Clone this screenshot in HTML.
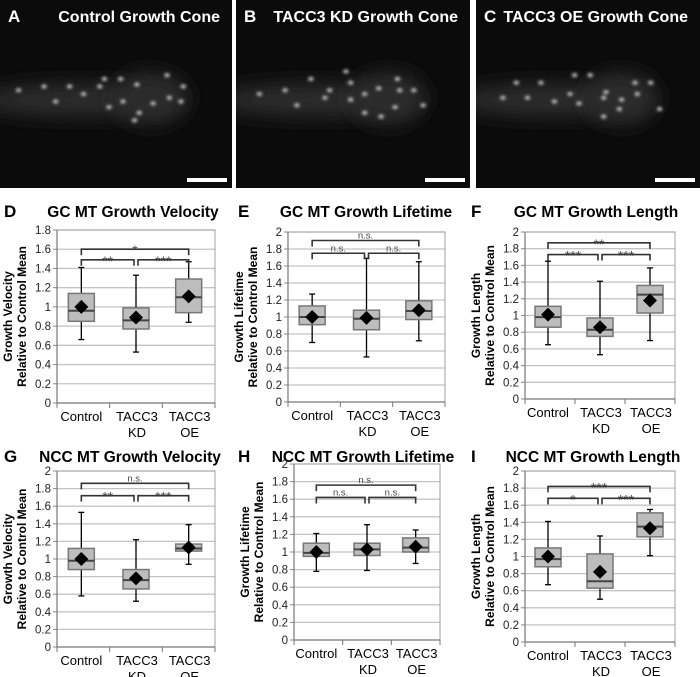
<!DOCTYPE html>
<html><head><meta charset="utf-8"><style>
html,body{margin:0;padding:0;background:#fff;width:700px;height:677px;overflow:hidden}
svg{display:block;font-family:"Liberation Sans",sans-serif}
</style></head><body>
<svg id="fig" width="700" height="677" viewBox="0 0 700 677" xmlns="http://www.w3.org/2000/svg">
<defs>
<filter id="blur2" x="-100%" y="-100%" width="300%" height="300%"><feGaussianBlur stdDeviation="1.5"/></filter>
<filter id="blur8" x="-50%" y="-100%" width="200%" height="300%"><feGaussianBlur stdDeviation="10"/></filter>
</defs>
</svg>
<script>
const NS='http://www.w3.org/2000/svg';
const svg=document.getElementById('fig');
function mk(tag,attrs,parent){const e=document.createElementNS(NS,tag);for(const k in attrs)e.setAttribute(k,attrs[k]);(parent||svg).appendChild(e);return e;}

// ---- Data ----
const categories=['Control','TACC3|KD','TACC3|OE'];
// each series: [whiskerLow, q1, median, q3, whiskerHigh, mean]
const dControl=[0.66,0.85,0.96,1.14,1.41,1.00], dKD=[0.53,0.77,0.86,0.99,1.33,0.89], dOE=[0.84,0.94,1.10,1.29,1.47,1.11];
const eControl=[0.70,0.91,1.00,1.13,1.27,1.00], eKD=[0.53,0.85,0.98,1.08,1.69,0.99], eOE=[0.72,0.97,1.07,1.19,1.65,1.08];
const fControl=[0.65,0.86,0.98,1.11,1.65,1.01], fKD=[0.53,0.75,0.83,0.97,1.41,0.86], fOE=[0.70,1.03,1.25,1.36,1.57,1.18];
const gControl=[0.58,0.88,0.98,1.12,1.53,1.00], gKD=[0.52,0.66,0.76,0.88,1.22,0.78], gOE=[0.94,1.09,1.12,1.17,1.39,1.13];
const hControl=[0.78,0.95,0.99,1.10,1.21,1.00], hKD=[0.79,0.96,1.03,1.10,1.31,1.03], hOE=[0.87,1.00,1.05,1.16,1.25,1.06];
const iControl=[0.67,0.88,0.97,1.10,1.41,1.00], iKD=[0.50,0.63,0.71,1.03,1.24,0.82], iOE=[1.01,1.23,1.35,1.51,1.55,1.33];
// significance: [lowerY, upperY], labels [C-KD, KD-OE, C-OE]
const dSig=[1.49,1.60], dSigLab=['**','***','*'];
const eSig=[1.75,1.90], eSigLab=['n.s.','n.s.','n.s.'];
const fSig=[1.73,1.87], fSigLab=['***','***','**'];
const gSig=[1.72,1.86], gSigLab=['**','***','n.s.'];
const hSig=[1.62,1.76], hSigLab=['n.s.','n.s.','n.s.'];
const iSig=[1.68,1.82], iSigLab=['*','***','***'];
const dTicks=[0,0.2,0.4,0.6,0.8,1,1.2,1.4,1.6,1.8];
const otherTicks=[0,0.2,0.4,0.6,0.8,1,1.2,1.4,1.6,1.8,2];

// ---- image panels ----
const imgPanels=[
 {x:0,w:232,letter:'A',title:'Control Growth Cone',name:'control-growth-cone-image'},
 {x:236,w:234,letter:'B',title:'TACC3 KD Growth Cone',name:'tacc3-kd-growth-cone-image'},
 {x:476,w:224,letter:'C',title:'TACC3 OE Growth Cone',name:'tacc3-oe-growth-cone-image'}];
const spots=[[0.1,0.5],[0.2,0.46],[0.3,0.44],[0.42,0.48],[0.5,0.42],[0.55,0.52],[0.6,0.47],[0.66,0.55],[0.72,0.5],[0.7,0.42],[0.62,0.6],[0.48,0.55],[0.36,0.52],[0.78,0.46],[0.56,0.62],[0.8,0.56],[0.25,0.54],[0.45,0.4]];
const defs=svg.querySelector('defs');
imgPanels.forEach((p,k)=>{
 const cp=mk('clipPath',{id:'clip'+k},defs); mk('rect',{x:p.x,y:0,width:p.w,height:188},cp);
 const g=mk('g',{'clip-path':'url(#clip'+k+')'});  
 mk('rect',{x:p.x,y:0,width:p.w,height:188,fill:'#0b0b0b'},g);
 mk('ellipse',{cx:p.x+p.w*0.35,cy:100,rx:p.w*0.45,ry:16,fill:'#2e2e2e',filter:'url(#blur8)'},g);
 mk('ellipse',{cx:p.x+p.w*0.65,cy:98,rx:p.w*0.16,ry:26,fill:'#2a2a2a',filter:'url(#blur8)'},g);
 spots.forEach((s,j)=>{mk('ellipse',{cx:p.x+p.w*(s[0]+((k*7+j)%5-2)*0.01),cy:188*(s[1]+((k+j)%3-1)*0.02),rx:2.6,ry:1.8,fill:'#e6e6e6',filter:'url(#blur2)'},g);});
 const L=mk('text',{x:p.x+8,y:22,fill:'#fff','font-size':17,'font-weight':'bold'},g); L.textContent=p.letter;
 const T=mk('text',{x:p.x+p.w-12,y:22,fill:'#fff','font-size':16,'font-weight':'bold','text-anchor':'end'},g); T.textContent=p.title;
 mk('rect',{x:p.x+p.w-45,y:178,width:40,height:4,fill:'#fff'},g);
});

// ---- chart panels ----
const panels=[
 {letter:'D',title:'GC MT Growth Velocity',ylab:'Growth Velocity',x0:57,x1:215,yTop:230,yBot:403,ymax:1.8,ticks:dTicks,data:[dControl,dKD,dOE],sig:dSig,sl:dSigLab,lx:4,tx:133,ty:217},
 {letter:'E',title:'GC MT Growth Lifetime',ylab:'Growth Lifetime',x0:288,x1:445,yTop:232,yBot:402,ymax:2,ticks:otherTicks,data:[eControl,eKD,eOE],sig:eSig,sl:eSigLab,lx:238,tx:366,ty:217},
 {letter:'F',title:'GC MT Growth Length',ylab:'Growth Length',x0:525,x1:675,yTop:232,yBot:399,ymax:2,ticks:otherTicks,data:[fControl,fKD,fOE],sig:fSig,sl:fSigLab,lx:471,tx:596,ty:217},
 {letter:'G',title:'NCC MT Growth Velocity',ylab:'Growth Velocity',x0:57,x1:215,yTop:471,yBot:647,ymax:2,ticks:otherTicks,data:[gControl,gKD,gOE],sig:gSig,sl:gSigLab,lx:4,tx:130,ty:462},
 {letter:'H',title:'NCC MT Growth Lifetime',ylab:'Growth Lifetime',x0:294,x1:440,yTop:464,yBot:640,ymax:2,ticks:otherTicks,data:[hControl,hKD,hOE],sig:hSig,sl:hSigLab,lx:238,tx:363,ty:462},
 {letter:'I',title:'NCC MT Growth Length',ylab:'Growth Length',x0:525,x1:675,yTop:471,yBot:642,ymax:2,ticks:otherTicks,data:[iControl,iKD,iOE],sig:iSig,sl:iSigLab,lx:471,tx:593,ty:462}];

panels.forEach(p=>{
 const g=mk('g',{});
 
 
 const Y=v=>p.yBot-(v/p.ymax)*(p.yBot-p.yTop);
 const bw=(p.x1-p.x0)/3;
 const X=i=>p.x0+bw*(i+0.5)+(i===0?-2:0);
 const lt=mk('text',{x:p.lx,y:p.ty,'font-size':17,'font-weight':'bold',fill:'#000'},g); lt.textContent=p.letter;
  
 const tt=mk('text',{x:p.tx,y:p.ty,'font-size':15.5,'font-weight':'bold',fill:'#000','text-anchor':'middle'},g); tt.textContent=p.title;
  
 p.ticks.forEach(t=>{
  const y=Y(t);
  if(t>0){const gl=mk('line',{x1:p.x0,x2:p.x1,y1:y,y2:y,stroke:'#c4c4c4','stroke-width':1.3},g);}
  mk('line',{x1:p.x0-4,x2:p.x0,y1:y,y2:y,stroke:'#888'},g);
  const tl=mk('text',{x:p.x0-6,y:y+4,'font-size':11.5,fill:'#222','text-anchor':'end'},g); tl.textContent=String(t);
   
 });
 mk('rect',{x:p.x0,y:p.yTop,width:p.x1-p.x0,height:p.yBot-p.yTop,fill:'none',stroke:'#a0a0a0','stroke-width':1},g);
 mk('line',{x1:p.x0,x2:p.x1,y1:p.yBot,y2:p.yBot,stroke:'#777','stroke-width':1.2},g);
 mk('line',{x1:p.x0,x2:p.x0,y1:p.yTop,y2:p.yBot,stroke:'#777','stroke-width':1.2},g);
 for(let i=0;i<=3;i++){mk('line',{x1:p.x0+bw*i,x2:p.x0+bw*i,y1:p.yBot,y2:p.yBot+5,stroke:'#777'},g);}
 const cy=(p.yTop+p.yBot)/2, lx=p.x0-45;
 const yl=mk('text',{transform:`translate(${lx},${cy}) rotate(-90)`,'font-size':12,'font-weight':'bold','text-anchor':'middle',fill:'#000'},g);
  
 const s1=mk('tspan',{x:0,y:0},yl); s1.textContent=p.ylab;
 const s2=mk('tspan',{x:0,y:14},yl); s2.textContent='Relative to Control Mean';
 categories.forEach((c,i)=>{
  const parts=c.split('|');
  parts.forEach((pt,j)=>{const ct=mk('text',{x:X(i)+(i===0?0:1),y:p.yBot+18+j*16,'font-size':13,'text-anchor':'middle',fill:'#000'},g);ct.textContent=pt;
    });
 });
 const bwid=26;
 p.data.forEach((d,i)=>{
  const bg=mk('g',{},g);
  
  
  const x=X(i);
  mk('line',{x1:x,x2:x,y1:Y(d[0]),y2:Y(d[4]),stroke:'#000','stroke-width':1.3},bg);
  mk('line',{x1:x-3,x2:x+3,y1:Y(d[0]),y2:Y(d[0]),stroke:'#000','stroke-width':1.3},bg);
  mk('line',{x1:x-3,x2:x+3,y1:Y(d[4]),y2:Y(d[4]),stroke:'#000','stroke-width':1.3},bg);
  mk('rect',{x:x-bwid/2,y:Y(d[3]),width:bwid,height:Y(d[1])-Y(d[3]),fill:'#bdbdbd',stroke:'#777','stroke-width':1.5},bg);
  mk('line',{x1:x-bwid/2,x2:x+bwid/2,y1:Y(d[2]),y2:Y(d[2]),stroke:'#444','stroke-width':2},bg);
  const m=Y(d[5]);
  mk('polygon',{points:`${x},${m-7} ${x+7},${m} ${x},${m+7} ${x-7},${m}`,fill:'#000'},bg);
 });
 const pairs=[[0,1,0],[1,2,0],[0,2,1]];
 pairs.forEach((pr,k)=>{
  const y=Y(p.sig[pr[2]]);
  const xa=X(pr[0])+(k===1?2:0), xb=X(pr[1])-(k===0?2:0);
  const bg=mk('g',{},g);
  
  
  mk('polyline',{points:`${xa},${y+6} ${xa},${y} ${xb},${y} ${xb},${y+6}`,fill:'none',stroke:'#333','stroke-width':1.6},bg);
  const lab=p.sl[k];
  const st=mk('text',{x:(xa+xb)/2,y:lab==='n.s.'?y-2:y+6,'font-size':lab==='n.s.'?9.5:14,'text-anchor':'middle',fill:'#444'},bg);
  st.textContent=lab;
 });
});
</script>
</body></html>
